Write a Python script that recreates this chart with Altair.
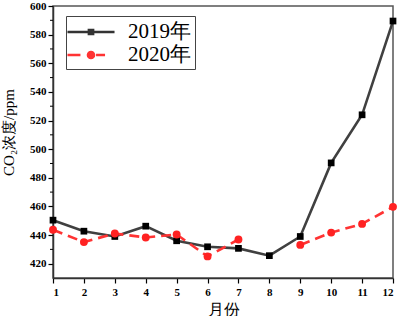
import altair as alt
import pandas as pd

months = list(range(1, 13))
co2_2019 = [450.4, 442.7, 439.0, 446.2, 436.0, 431.8, 430.7, 425.6, 439.0, 490.4, 524.0, 589.5]
co2_2020 = [443.7, 435.1, 441.1, 438.3, 440.4, 425.1, 436.9, None, 433.1, 441.7, 447.8, 459.7]
series = ["2019年", "2020年"]
y_major = [420, 440, 460, 480, 500, 520, 540, 560, 580, 600]
y_minor = [430, 450, 470, 490, 510, 530, 550, 570, 590]

rows = []
for m, a, b in zip(months, co2_2019, co2_2020):
    rows.append({"month": m, "value": a, "series": series[0]})
    rows.append({"month": m, "value": b, "series": series[1]})
df = pd.DataFrame(rows)
minor_df = pd.DataFrame({"value": y_minor})

SERIF = "Liberation Serif"

xenc = alt.X("month:Q", scale=alt.Scale(domain=[1, 12], nice=False),
             axis=alt.Axis(values=months, title="月份", format="d"))
yaxis = alt.Axis(values=y_major, title="CO₂浓度/ppm", labelOverlap=False,
                 titleX=-45, titleY=126, titleAlign="center", titleBaseline="middle", titleAngle=270)
yscale = alt.Scale(domain=[410, 600], nice=False, zero=False)
yenc = alt.Y("value:Q", scale=yscale, axis=yaxis)

base = alt.Chart(df)
d19 = base.transform_filter(alt.datum.series == series[0])
d20 = base.transform_filter(alt.datum.series == series[1])

line19 = d19.mark_line(strokeWidth=2.6, color="#404040").encode(x=xenc, y=yenc)
line20 = d20.mark_line(strokeWidth=2.6, color="#ff3333", strokeDash=[10, 6],
                       invalid="break-paths-show-domains").encode(x=xenc, y=yenc)
squares = d19.mark_square(size=45, color="#000000", opacity=1).encode(x=xenc, y=yenc)
circles = d20.transform_filter(alt.datum.value != None).mark_circle(
    size=62, color="#ff2222", opacity=1).encode(x=xenc, y=yenc)

path_2019 = "M-1.96,-0.1H1.96V0.1H-1.96Z M-0.28,-0.28H0.28V0.28H-0.28Z"
path_2020 = ("M-1.96,-0.1H-0.88V0.1H-1.96Z M0.42,-0.1H1.17V0.1H0.42Z "
             "M0.36,0A0.36,0.36,0,1,1,-0.36,0A0.36,0.36,0,1,1,0.36,0Z")

leg = alt.Legend(orient="none", legendX=13, legendY=10, title=None,
                 labelFont=SERIF, labelFontSize=21, labelColor="#000000",
                 strokeColor="#444444", fillColor="#ffffff", padding=4,
                 rowPadding=1, symbolOffset=9, labelOffset=25, symbolStrokeWidth=0,
                 symbolOpacity=1, symbolSize=576)

legend_layer = base.mark_point(filled=True, size=576, opacity=0).encode(
    x=xenc, y=yenc,
    shape=alt.Shape("series:N", scale=alt.Scale(domain=series, range=[path_2019, path_2020]), legend=leg),
    color=alt.Color("series:N", scale=alt.Scale(domain=series, range=["#333333", "#ff3333"]), legend=leg),
)

minor = alt.Chart(minor_df).mark_rule(color="#000000", strokeWidth=1).encode(
    y=yenc, x=alt.value(-3), x2=alt.value(0))

chart = alt.layer(line19, line20, squares, circles, legend_layer, minor).properties(
    width=340, height=272,
    autosize=alt.AutoSizeParams(type="none"),
    padding={"left": 53, "top": 6, "right": 8, "bottom": 38},
    background="#ffffff",
).configure_view(stroke="#555555", strokeWidth=1.5).configure_axis(
    grid=False, labelFont=SERIF, labelFontWeight="bold", labelFontSize=11,
    labelColor="#000000", tickColor="#000000", tickSize=5, tickWidth=1.2,
    domainColor="#333333", domainWidth=1.5, titleFont=SERIF, titleFontWeight="normal",
    titleColor="#000000", titleFontSize=15,
).configure_axisY(labelPadding=2).configure_axisX(
    labelPadding=3, titlePadding=4, titleFontSize=16).configure_legend(
    labelFont=SERIF, labelFontSize=21)

chart.save("out.html", embed_options={"renderer": "svg", "actions": False})
